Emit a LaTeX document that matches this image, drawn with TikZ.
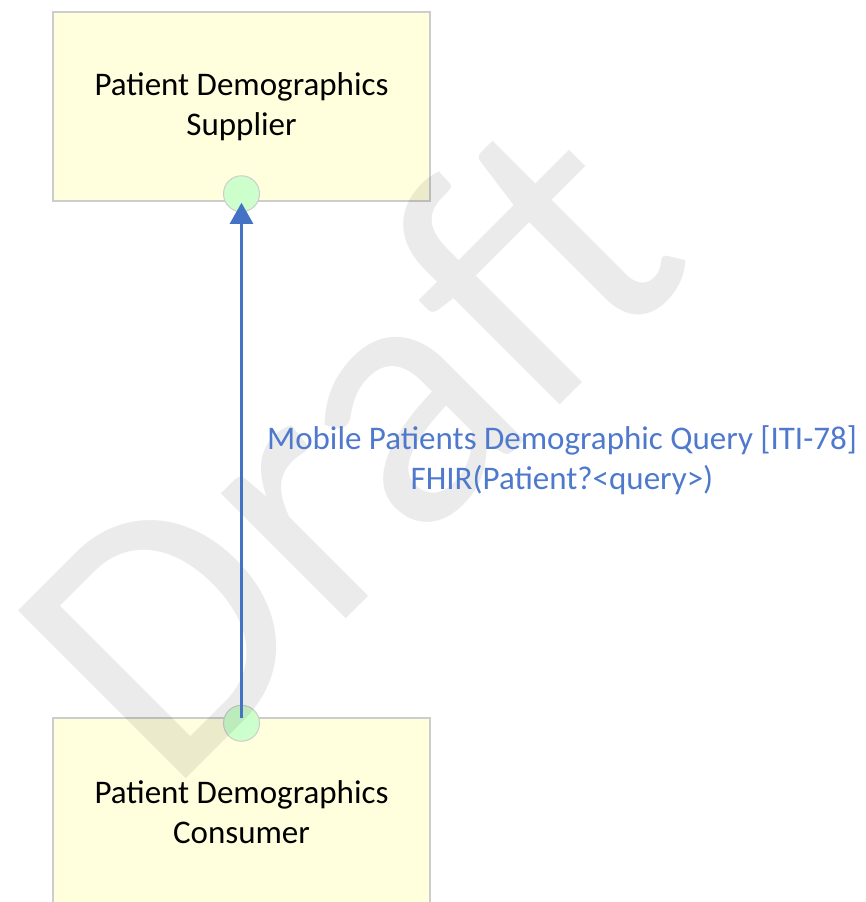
\documentclass[tikz,border=0pt]{standalone}
\usepackage{fontspec}
\setmainfont{Carlito}
\usetikzlibrary{arrows.meta}
\definecolor{boxfill}{HTML}{FFFFDD}
\definecolor{boxline}{HTML}{CDCDCD}
\definecolor{portfill}{HTML}{CCFFCC}
\definecolor{linkblue}{HTML}{4472C4}
\definecolor{querytext}{HTML}{4F79CC}

\begin{document}
\begin{tikzpicture}[x=1pt,y=-1pt,
  actor/.style={draw=boxline,fill=boxfill,line width=1.5pt,minimum width=377pt,minimum height=189pt,align=center,font=\fontsize{33}{40}\selectfont},
  port/.style={circle,draw=boxline,fill=portfill,line width=1pt,minimum size=36pt,inner sep=0pt},
  link/.style={draw=linkblue,line width=2.5pt,-{Triangle[length=21pt,width=23pt]}},
  linktext/.style={text=querytext,align=center,font=\fontsize{33}{40}\selectfont}]
\useasboundingbox (0,0) rectangle (865,902);
\node[actor] (supplier) at (241.5,106.5) {Patient Demographics\\Supplier};
\node[actor] (consumer) at (241.5,812.5) {Patient Demographics\\Consumer};
\node[port] (supplierport) at ([yshift=8pt]supplier.south) {};
\node[port] (consumerport) at ([yshift=-6pt]consumer.north) {};
% watermark
\node[anchor=base west,rotate=45,text=black,text opacity=0.08,inner sep=0pt,font=\fontsize{370}{370}\selectfont] (draft) at (168,797) {Draft};
\draw[link,shorten <=5pt,shorten >=9pt] (consumerport.center) -- (supplierport.center);
\node[linktext] (query) at (562,460) {Mobile Patients Demographic Query [ITI-78]\\FHIR(Patient?<query>)};
\end{tikzpicture}
\end{document}
